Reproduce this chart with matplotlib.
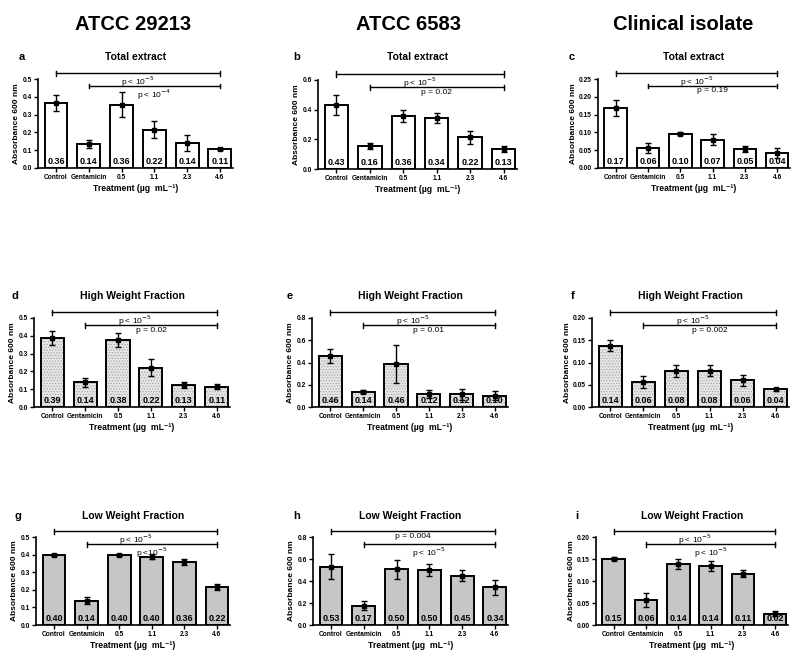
import numpy as np
import matplotlib
matplotlib.use('Agg')
import matplotlib.pyplot as plt

plt.rcParams['font.family'] = ['Liberation Sans Narrow', 'Liberation Sans', 'DejaVu Sans']
plt.rcParams['hatch.linewidth'] = 0.6

categories = ['Control', 'Gentamicin', '0.5', '1.1', '2.3', '4.6']
strains = ['ATCC 29213', 'ATCC 6583', 'Clinical isolate']
fractions = ['Total extract', 'High Weight Fraction', 'Low Weight Fraction']
letters = ['a', 'b', 'c', 'd', 'e', 'f', 'g', 'h', 'i']

# mean absorbance (bar height) per panel, a..i
means_a = [0.365, 0.135, 0.356, 0.215, 0.140, 0.107]
means_b = [0.431, 0.155, 0.357, 0.342, 0.213, 0.133]
means_c = [0.168, 0.056, 0.096, 0.080, 0.054, 0.042]
means_d = [0.387, 0.138, 0.377, 0.221, 0.126, 0.113]
means_e = [0.459, 0.136, 0.389, 0.121, 0.115, 0.100]
means_f = [0.138, 0.056, 0.081, 0.082, 0.060, 0.040]
means_g = [0.396, 0.138, 0.398, 0.389, 0.358, 0.217]
means_h = [0.530, 0.177, 0.506, 0.500, 0.449, 0.341]
means_i = [0.151, 0.057, 0.138, 0.134, 0.117, 0.026]

# error bar half lengths
err_a = [0.047, 0.020, 0.070, 0.048, 0.043, 0.004]
err_b = [0.070, 0.020, 0.042, 0.035, 0.046, 0.020]
err_c = [0.022, 0.013, 0.004, 0.015, 0.008, 0.014]
err_d = [0.038, 0.024, 0.040, 0.046, 0.017, 0.014]
err_e = [0.062, 0.013, 0.172, 0.036, 0.048, 0.040]
err_f = [0.012, 0.013, 0.013, 0.013, 0.012, 0.003]
err_g = [0.005, 0.021, 0.007, 0.013, 0.017, 0.017]
err_h = [0.112, 0.045, 0.086, 0.055, 0.047, 0.064]
err_i = [0.004, 0.015, 0.011, 0.011, 0.009, 0.006]

# numbers printed inside the bars
lab_a = ['0.36', '0.14', '0.36', '0.22', '0.14', '0.11']
lab_b = ['0.43', '0.16', '0.36', '0.34', '0.22', '0.13']
lab_c = ['0.17', '0.06', '0.10', '0.07', '0.05', '0.04']
lab_d = ['0.39', '0.14', '0.38', '0.22', '0.13', '0.11']
lab_e = ['0.46', '0.14', '0.46', '0.12', '0.12', '0.10']
lab_f = ['0.14', '0.06', '0.08', '0.08', '0.06', '0.04']
lab_g = ['0.40', '0.14', '0.40', '0.40', '0.36', '0.22']
lab_h = ['0.53', '0.17', '0.50', '0.50', '0.45', '0.34']
lab_i = ['0.15', '0.06', '0.14', '0.14', '0.11', '0.02']

P5 = r'p < 10$^{-5}$'
pvals = [
    (P5, r'p < 10$^{-4}$'), (P5, 'p = 0.02'), (P5, 'p = 0.19'),
    (P5, 'p = 0.02'), (P5, 'p = 0.01'), (P5, 'p = 0.002'),
    (P5, r'p <10$^{-5}$'), ('p = 0.004', P5), (P5, P5),
]

ymax = [0.5, 0.6, 0.25, 0.5, 0.8, 0.20, 0.5, 0.8, 0.20]
ystep = [0.1, 0.2, 0.05, 0.1, 0.2, 0.05, 0.1, 0.2, 0.05]
yfmt = ['%.1f', '%.1f', '%.2f', '%.1f', '%.1f', '%.2f', '%.1f', '%.1f', '%.2f']

means = [means_a, means_b, means_c, means_d, means_e, means_f, means_g, means_h, means_i]
errs = [err_a, err_b, err_c, err_d, err_e, err_f, err_g, err_h, err_i]
labs = [lab_a, lab_b, lab_c, lab_d, lab_e, lab_f, lab_g, lab_h, lab_i]

W, H = 792, 653
fig = plt.figure(figsize=(W / 100, H / 100), dpi=100)

# axes boxes in pixels: left, right, top, bottom
boxes = [
    (38, 233, 79, 168), (318, 517, 80, 169), (598, 790, 79, 168),
    (34, 230, 318, 407), (312, 508, 318, 407), (592, 789, 318, 407),
    (36, 230, 537, 625), (313, 508, 537, 625), (596, 788, 537, 625),
]
letter_x = [22, 297, 572, 15, 290, 573, 18, 297, 577]
title_y = [57, 57, 57, 296, 296, 296, 516, 516, 516]

def px(x, y):
    return x / W, 1 - y / H

for k in range(9):
    l, r, t, b = boxes[k]
    ax = fig.add_axes([l / W, 1 - b / H, (r - l) / W, (b - t) / H])
    x = np.arange(len(categories))
    row = k // 3
    if row == 0:
        ax.bar(x, means[k], 0.7, color='white', edgecolor='black', linewidth=1.4, zorder=2)
    elif row == 1:
        ax.bar(x, means[k], 0.7, color='#e6e6e6', edgecolor='#a8a8a8', hatch='......',
               linewidth=0, zorder=2)
        ax.bar(x, means[k], 0.7, fill=False, edgecolor='black', linewidth=1.4, zorder=3)
    else:
        ax.bar(x, means[k], 0.7, color='#c6c6c6', edgecolor='black', linewidth=1.4, zorder=2)
    ax.errorbar(x, means[k], yerr=errs[k], fmt='s', color='black', markersize=2.2,
                elinewidth=1.0, capsize=2, capthick=1.0, zorder=4)
    for i, s in enumerate(labs[k]):
        ax.text(x[i], ymax[k] * 0.025, s, ha='center', va='bottom', fontsize=6.5,
                fontweight='bold', zorder=5)

    ax.set_xlim(-0.55, 5.4)
    ax.set_ylim(0, ymax[k])
    ticks = np.arange(0, ymax[k] + 1e-9, ystep[k])
    ax.set_yticks(ticks)
    ax.set_yticklabels([yfmt[k] % v for v in ticks])
    ax.set_xticks(x)
    ax.set_xticklabels(categories)
    for sp in ['top', 'right']:
        ax.spines[sp].set_visible(False)
    for sp in ['left', 'bottom']:
        ax.spines[sp].set_linewidth(1.2)
    ax.tick_params(axis='both', direction='out', length=3, width=1.0, labelsize=4.8, pad=1.5)
    for lb in ax.get_xticklabels() + ax.get_yticklabels():
        lb.set_fontweight('bold')
    ax.set_ylabel('Absorbance 600 nm', fontsize=6, fontweight='bold', labelpad=1.5)
    ax.set_xlabel('Treatment (\u00b5g  mL\u207b\u00b9)', fontsize=6.2,
                  fontweight='bold', labelpad=2)

    # significance brackets above the plot
    per_unit = (b - t) / ymax[k]
    y1 = ymax[k] + 6 / per_unit
    y2 = ymax[k] - 7 / per_unit
    cap = 2.5 / per_unit
    for (x0, yy, txt) in [(0, y1, pvals[k][0]), (1, y2, pvals[k][1])]:
        ax.plot([x0, 5], [yy, yy], color='black', lw=1.0, clip_on=False, zorder=5)
        for xe in (x0, 5):
            ax.plot([xe, xe], [yy - cap, yy + cap], color='black', lw=1.0, clip_on=False, zorder=5)
        ax.text((x0 + 5) / 2, yy - 1.5 / per_unit, txt, ha='center', va='top', fontsize=6,
                clip_on=False, zorder=5)

    cx = (l + r) / 2
    fig.text(*px(cx, title_y[k]), fractions[row], ha='center', va='center', fontsize=7.5,
             fontweight='bold')
    fig.text(*px(letter_x[k], title_y[k]), letters[k], ha='center', va='center', fontsize=8,
             fontweight='bold')

header_x = [133, 408, 683]
for j, s in enumerate(strains):
    fig.text(*px(header_x[j], 24), s, ha='center', va='center', fontsize=14.5, fontweight='bold')

fig.savefig('out.png', dpi=100)
